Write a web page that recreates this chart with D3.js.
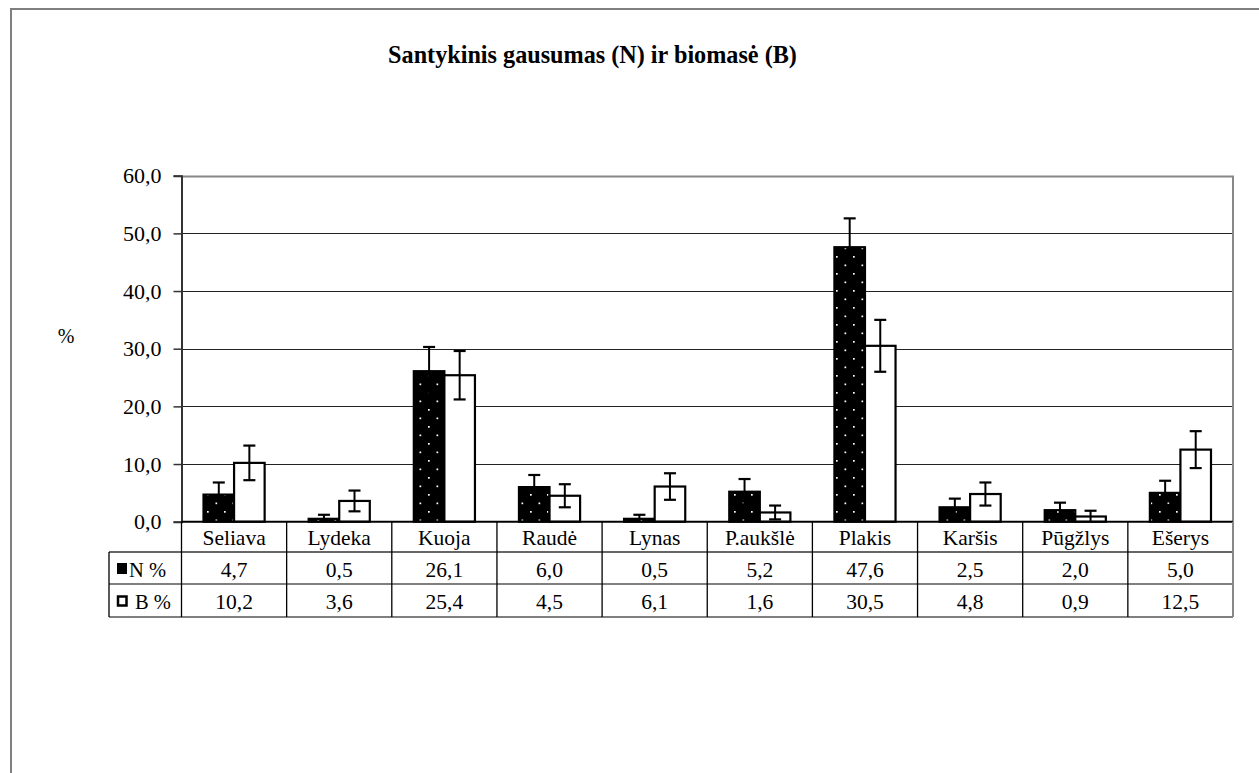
<!DOCTYPE html>
<html>
<head>
<meta charset="utf-8">
<script src="https://cdn.jsdelivr.net/npm/d3@7"></script>
<style>
  html, body { margin: 0; padding: 0; background: #fff; }
  svg { display: block; }
</style>
</head>
<body>
<svg id="chart" width="1259" height="773"></svg>
<script>
const titleText = "Santykinis gausumas (N) ir biomasė (B)";
const yLabel = "%";
const categories = ["Seliava", "Lydeka", "Kuoja", "Raudė", "Lynas", "P.aukšlė", "Plakis", "Karšis", "Pūgžlys", "Ešerys"];
const seriesNames = ["N %", "B %"];
const valuesN = [4.7, 0.5, 26.1, 6.0, 0.5, 5.2, 47.6, 2.5, 2.0, 5.0];
const valuesB = [10.2, 3.6, 25.4, 4.5, 6.1, 1.6, 30.5, 4.8, 0.9, 12.5];
const errorsN = [2.1, 0.7, 4.2, 2.1, 0.7, 2.2, 5.0, 1.5, 1.3, 2.1];
const errorsB = [3.0, 1.8, 4.2, 2.0, 2.3, 1.2, 4.5, 2.0, 1.0, 3.2];
const yTicks = [0, 10, 20, 30, 40, 50, 60];

const fmt = v => d3.format(".1f")(v).replace(".", ",");
const FONT = "'Liberation Serif', 'Times New Roman', Tinos, serif";

const svg = d3.select("#chart");
const W = 1259, H = 773;

const plotL = 181.5, plotR = 1233, plotT = 175.7, plotB = 521.7;
const rowCat = 552, rowN = 584, rowBt = 617, tableL = 109;

svg.append("path").attr("d", `M11,${H} L11,9 L${W},9`)
  .attr("fill", "none").attr("stroke", "#7f7f7f").attr("stroke-width", 2);

const defs = svg.append("defs");
const pat = defs.append("pattern").attr("id", "dots")
  .attr("patternUnits", "userSpaceOnUse").attr("width", 17).attr("height", 17)
  .attr("x", 3).attr("y", 1);
pat.append("rect").attr("width", 17).attr("height", 17).attr("fill", "#000");
pat.append("rect").attr("x", 0).attr("y", 0).attr("width", 1.7).attr("height", 1.7).attr("fill", "#fff");
pat.append("rect").attr("x", 8.5).attr("y", 8.5).attr("width", 1.7).attr("height", 1.7).attr("fill", "#fff");

const x = d3.scaleBand().domain(categories).range([plotL, plotR]).padding(0);
const xi = d3.scaleBand().domain(seriesNames).range([0, x.bandwidth()]).paddingInner(0).paddingOuter(0.72);
const y = d3.scaleLinear().domain([0, 60]).range([plotB, plotT]);

svg.append("text").attr("x", 592.5).attr("y", 63).attr("text-anchor", "middle")
  .style("font-family", FONT)
  .attr("font-size", 24.2).attr("font-weight", "bold").text(titleText);

svg.append("text").attr("x", 66).attr("y", 343).attr("text-anchor", "middle")
  .style("font-family", FONT).attr("font-size", 20).text(yLabel);

svg.append("g").selectAll("line").data(yTicks.filter(t => t > 0 && t < 60)).join("line")
  .attr("x1", plotL).attr("x2", plotR)
  .attr("y1", d => Math.round(y(d)) + 0.5).attr("y2", d => Math.round(y(d)) + 0.5)
  .attr("stroke", "#222").attr("stroke-width", 1.2);

svg.append("path").attr("d", `M${plotL},${Math.round(plotT)+0.5} L${plotR},${Math.round(plotT)+0.5} L${plotR},${plotB}`)
  .attr("fill", "none").attr("stroke", "#888").attr("stroke-width", 2);

const yAxis = d3.axisLeft(y).tickValues(yTicks).tickFormat(fmt).tickSize(8).tickPadding(12);
const gy = svg.append("g").attr("transform", `translate(${plotL},0)`).call(yAxis);
gy.attr("font-family", null).attr("font-size", null);
gy.select(".domain").attr("stroke", "#333").attr("stroke-width", 2);
gy.selectAll(".tick line").attr("stroke", "#333").attr("stroke-width", 1.5);
gy.selectAll(".tick text").attr("fill", "#000").style("font-family", FONT).style("font-size", "22px");

const series = [
  { name: seriesNames[0], vals: valuesN, errs: errorsN, fill: "url(#dots)" },
  { name: seriesNames[1], vals: valuesB, errs: errorsB, fill: "#fff" }
];
series.forEach(s => {
  const g = svg.append("g");
  g.selectAll("rect").data(categories).join("rect")
    .attr("x", d => x(d) + xi(s.name))
    .attr("y", (d, i) => y(s.vals[i]))
    .attr("width", xi.bandwidth())
    .attr("height", (d, i) => y(0) - y(s.vals[i]))
    .attr("fill", s.fill).attr("stroke", "#000").attr("stroke-width", 2.2);
});
series.forEach(s => {
  const g = svg.append("g");
  categories.forEach((c, i) => {
    const cx = x(c) + xi(s.name) + xi.bandwidth() / 2;
    const hi = y(s.vals[i] + s.errs[i]);
    const lo = y(Math.max(0, s.vals[i] - s.errs[i]));
    g.append("line").attr("x1", cx).attr("x2", cx).attr("y1", hi).attr("y2", lo)
      .attr("stroke", "#000").attr("stroke-width", 2);
    g.append("line").attr("x1", cx - 6).attr("x2", cx + 6).attr("y1", hi).attr("y2", hi)
      .attr("stroke", "#000").attr("stroke-width", 2.2);
    if (s.vals[i] - s.errs[i] > 0) {
      g.append("line").attr("x1", cx - 6).attr("x2", cx + 6).attr("y1", lo).attr("y2", lo)
        .attr("stroke", "#000").attr("stroke-width", 2.2);
    }
  });
});

svg.append("line").attr("x1", plotL).attr("x2", plotR).attr("y1", plotB).attr("y2", plotB)
  .attr("stroke", "#000").attr("stroke-width", 2);

const tg = svg.append("g");
[rowCat, rowN, rowBt].forEach((yy, k) => {
  tg.append("line").attr("x1", tableL).attr("x2", plotR).attr("y1", yy).attr("y2", yy)
    .attr("stroke", k === 0 ? "#333" : "#555").attr("stroke-width", 1.5);
});
const bounds = categories.map(c => x(c)).concat([plotR]);
tg.selectAll("line.v").data(bounds).join("line").attr("class", "v")
  .attr("x1", d => d).attr("x2", d => d).attr("y1", plotB).attr("y2", rowBt)
  .attr("stroke", (d, i) => i === bounds.length - 1 ? "#888" : "#000").attr("stroke-width", (d, i) => i === bounds.length - 1 ? 2 : 1.3);
tg.append("line").attr("x1", tableL).attr("x2", tableL).attr("y1", rowCat).attr("y2", rowBt)
  .attr("stroke", "#000").attr("stroke-width", 1.3);

tg.selectAll("text.cat").data(categories).join("text").attr("class", "cat")
  .attr("x", d => x(d) + x.bandwidth() / 2).attr("y", rowCat - 7)
  .attr("text-anchor", "middle").style("font-family", FONT).attr("font-size", 21.5).text(d => d);
tg.selectAll("text.vn").data(valuesN).join("text").attr("class", "vn")
  .attr("x", (d, i) => x(categories[i]) + x.bandwidth() / 2).attr("y", rowN - 7)
  .attr("text-anchor", "middle").style("font-family", FONT).attr("font-size", 21.5).text(d => fmt(d));
tg.selectAll("text.vb").data(valuesB).join("text").attr("class", "vb")
  .attr("x", (d, i) => x(categories[i]) + x.bandwidth() / 2).attr("y", rowBt - 8)
  .attr("text-anchor", "middle").style("font-family", FONT).attr("font-size", 21.5).text(d => fmt(d));

tg.append("rect").attr("x", 117).attr("y", 563).attr("width", 10).attr("height", 11).attr("fill", "#000");
tg.append("text").attr("x", 129).attr("y", rowN - 7).style("font-family", FONT).attr("font-size", 20.5).text(seriesNames[0]);
tg.append("rect").attr("x", 118).attr("y", 596.5).attr("width", 8.5).attr("height", 9)
  .attr("fill", "#fff").attr("stroke", "#000").attr("stroke-width", 2.5);
tg.append("text").attr("x", 135).attr("y", rowBt - 8).style("font-family", FONT).attr("font-size", 20.5).text(seriesNames[1]);
</script>
</body>
</html>
